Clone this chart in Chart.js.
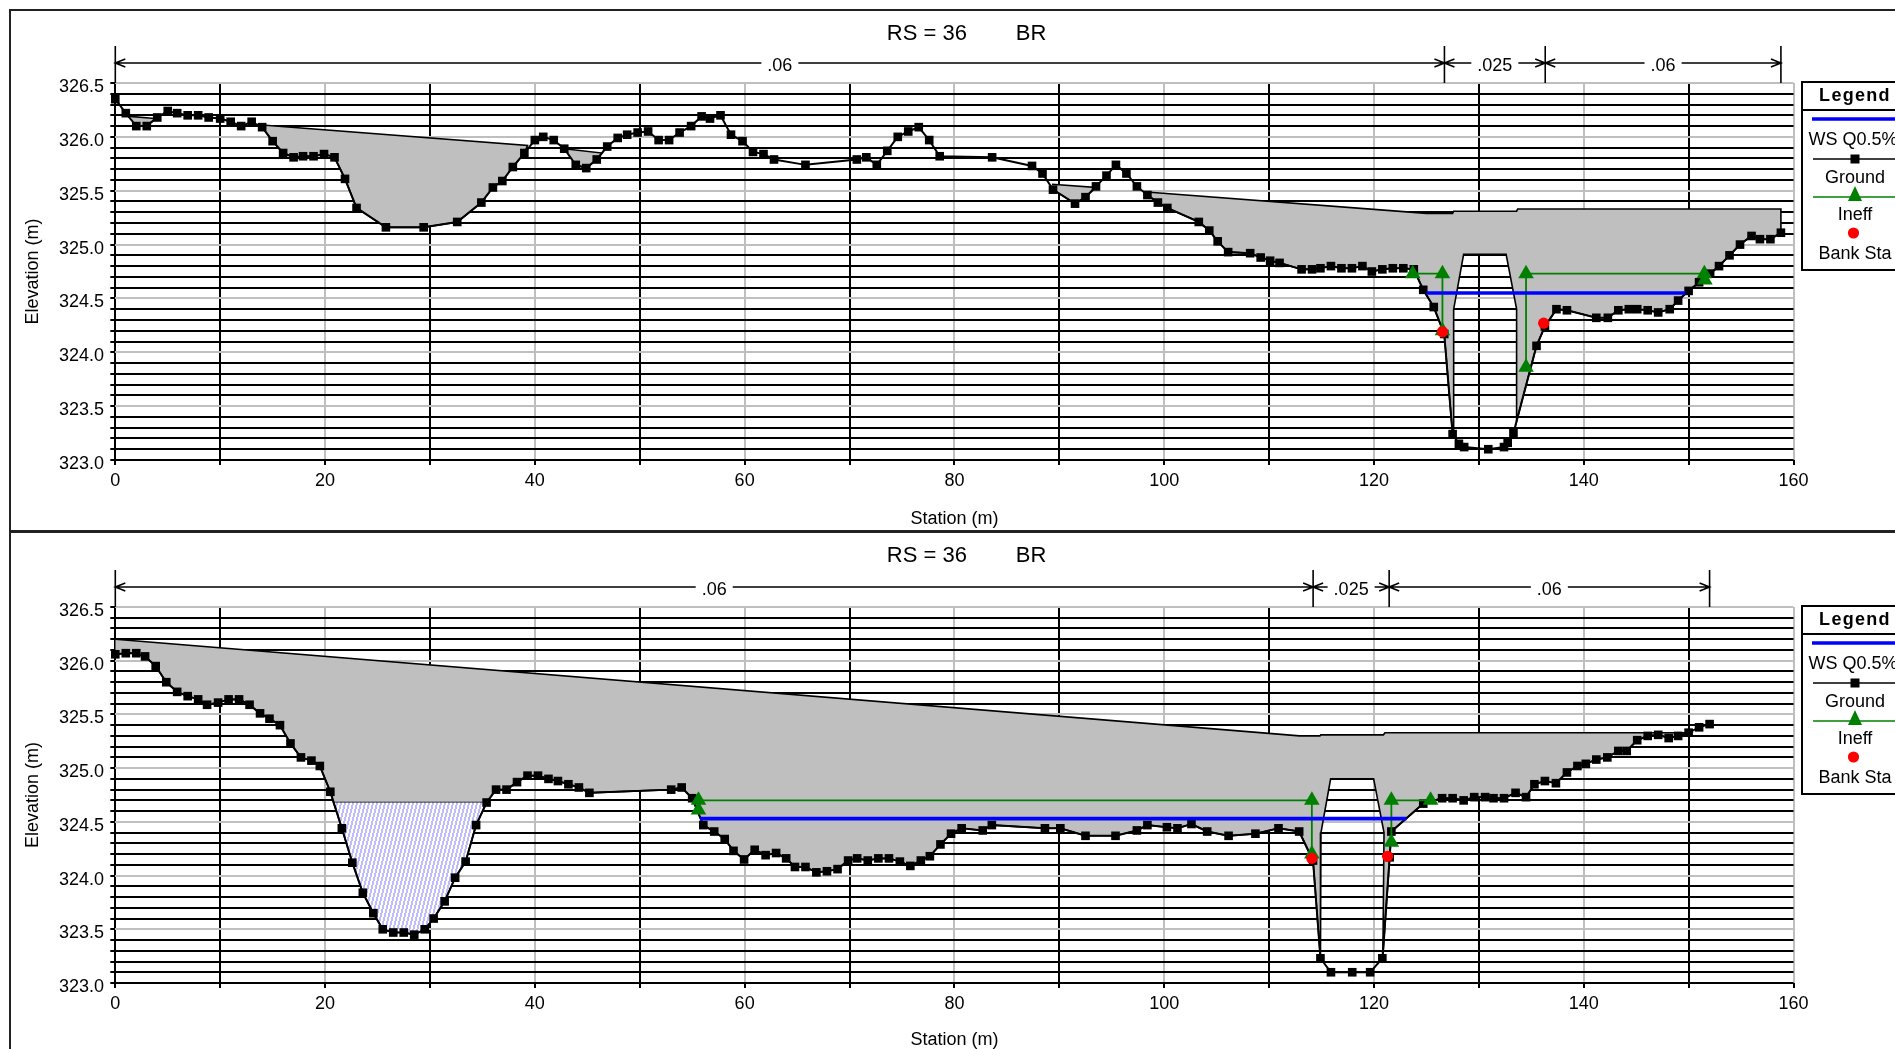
<!DOCTYPE html>
<html>
<head>
<meta charset="utf-8">
<script src="https://cdn.jsdelivr.net/npm/chart.js@4"></script>
<style>
  html, body { margin: 0; padding: 0; background: #fff; overflow: hidden; }
  body { width: 1895px; height: 1049px; position: relative; }
  canvas { position: absolute; left: 0; }
  .edge { position: absolute; background: #222; }
</style>
</head>
<body>
<div class="edge" style="left:9px;top:9px;width:1886px;height:2px"></div>
<div class="edge" style="left:9px;top:9px;width:2px;height:1040px"></div>
<div class="edge" style="left:9px;top:530px;width:1886px;height:3px"></div>
<canvas id="chartTop" width="1895" height="530" style="top:0"></canvas>
<canvas id="chartBottom" width="1895" height="520" style="top:533px"></canvas>
<script>
const chartTitle = "    RS = 36        BR";
const xTitle = "Station (m)";
const yTitle = "Elevation (m)";
const yTickLabels = ["323.0", "323.5", "324.0", "324.5", "325.0", "325.5", "326.0", "326.5"];
const legendNames = ["WS Q0.5%", "Ground", "Ineff", "Bank Sta"];

/* upper cross section */
const topGround = [[0,326.35],[1,326.22],[2,326.1],[3,326.1],[4,326.18],[5,326.24],[5.9,326.22],[6.9,326.2],[7.9,326.2],[8.9,326.18],
  [10,326.17],[11,326.14],[12,326.1],[13,326.14],[14,326.09],[15,325.96],[16,325.85],[17,325.81],[17.9,325.82],[18.9,325.82],
  [19.9,325.84],[20.9,325.81],[21.9,325.61],[23,325.34],[25.8,325.16],[29.4,325.16],[32.6,325.21],[34.9,325.39],[36,325.53],[36.9,325.59],
  [37.9,325.72],[39,325.85],[40,325.97],[40.8,326],[41.8,325.97],[42.8,325.89],[43.9,325.74],[44.9,325.71],[45.9,325.79],[46.9,325.91],
  [47.9,325.99],[48.8,326.02],[49.8,326.04],[50.8,326.05],[51.8,325.97],[52.8,325.97],[53.8,326.04],[54.9,326.1],[55.9,326.19],[56.7,326.17],
  [57.7,326.2],[58.7,326.02],[59.8,325.96],[60.8,325.86],[61.8,325.84],[62.8,325.79],[65.8,325.74],[70.7,325.79],[71.6,325.81],[72.6,325.74],
  [73.6,325.87],[74.6,326],[75.6,326.05],[76.6,326.09],[77.6,325.97],[78.6,325.82],[83.6,325.81],[87.4,325.73],[88.4,325.66],[89.4,325.51],
  [91.5,325.38],[92.5,325.44],[93.5,325.54],[94.5,325.64],[95.4,325.74],[96.4,325.66],[97.4,325.54],[98.4,325.46],[99.4,325.39],[100.3,325.34],
  [103.3,325.21],[104.3,325.13],[105.1,325.03],[106.1,324.93],[108.2,324.92],[109.2,324.88],[110.1,324.85],[111,324.83],[113.1,324.77],[114.1,324.77],
  [114.9,324.78],[115.9,324.8],[116.9,324.78],[117.9,324.78],[118.9,324.8],[119.8,324.75],[120.8,324.77],[121.8,324.78],[122.8,324.78],[123.8,324.77],
  [124.7,324.58],[125.7,324.42],[126.7,324.17],[127.5,323.24],[128.1,323.15],[128.6,323.12],[130.9,323.1],[132.4,323.12],[132.75,323.16],[133.3,323.25],
  [135.5,324.06],[136.3,324.24],[137.4,324.4],[138.4,324.39],[141.2,324.32],[142.3,324.32],[143.3,324.39],[144.3,324.4],[145.1,324.4],[146.1,324.39],
  [147.1,324.37],[148.2,324.4],[149,324.48],[150,324.57],[151,324.65],[152.05,324.73],[152.9,324.8],[153.9,324.9],[154.9,325],[156,325.08],
  [156.8,325.05],[157.8,325.05],[158.8,325.11]];
const topWs = [[125,324.55],[149.7,324.55]];
const topIneffLeft = [[123.7,324.73],[126.53,324.73],[126.53,324.2]];
const topIneffRight = [[134.5,323.86],[134.5,324.73],[151.5,324.73],[151.55,324.67]];
const topBank = [[126.53,324.19],[136.18,324.27]];
const topNStations = [0, 126.72, 136.33, 158.8];
const topDeck1 = [[1.4,326.19],[3.8,326.17]];
const topDeck2 = [[14,326.11],[39.3,325.92]];
const topDeck3 = [[42.8,325.89],[46.4,325.85]];
const topDeck4 = [[89.3,325.56],[93.5,325.53]];
const topDeck5 = [[98,325.49],[125,325.29],[127.5,325.29],[127.6,325.31],[133.6,325.31],[133.7,325.33],[158.8,325.33]];
const topOpening = [[133.6,323.36],[133.6,324.4],[132.6,324.91],[128.55,324.91],[127.6,324.4],[127.6,323.23]];

/* lower cross section */
const bottomGround = [[0,326.06],[1,326.07],[2,326.07],[2.84,326.04],[3.85,325.95],[4.86,325.8],[5.9,325.71],[6.9,325.67],[7.9,325.64],[8.75,325.59],
  [9.8,325.61],[10.8,325.64],[11.8,325.64],[12.8,325.59],[13.8,325.51],[14.7,325.46],[15.7,325.4],[16.7,325.23],[17.7,325.1],[18.7,325.07],
  [19.5,325.02],[20.5,324.78],[21.6,324.44],[22.6,324.12],[23.6,323.84],[24.6,323.65],[25.5,323.5],[26.5,323.47],[27.5,323.47],[28.5,323.45],
  [29.5,323.5],[30.35,323.6],[31.4,323.76],[32.4,323.98],[33.4,324.13],[34.4,324.47],[35.4,324.68],[36.3,324.8],[37.3,324.8],[38.3,324.87],
  [39.3,324.93],[40.3,324.93],[41.3,324.9],[42.2,324.88],[43.2,324.85],[44.2,324.82],[45.2,324.77],[53,324.8],[54,324.82],[55,324.72],
  [56.06,324.47],[57.1,324.41],[58.1,324.34],[58.94,324.23],[59.95,324.15],[60.96,324.24],[62,324.19],[63,324.21],[63.96,324.16],[64.8,324.08],
  [65.8,324.08],[66.84,324.03],[67.85,324.04],[68.86,324.06],[69.87,324.14],[70.73,324.16],[71.74,324.14],[72.75,324.16],[73.76,324.16],[74.8,324.13],
  [75.8,324.09],[76.8,324.14],[77.66,324.18],[78.67,324.29],[79.68,324.39],[80.69,324.44],[82.7,324.42],[83.57,324.47],[88.63,324.44],[90.1,324.44],
  [92.5,324.37],[95.36,324.37],[97.4,324.42],[98.4,324.47],[100.26,324.45],[101.27,324.44],[102.6,324.48],[104.1,324.41],[106.14,324.37],[108.7,324.39],
  [110.9,324.44],[112.87,324.41],[114.19,324.14],[114.9,323.23],[115.9,323.1],[117.93,323.1],[119.64,323.1],[120.8,323.23],[121.5,324.17],[121.66,324.41],
  [124.7,324.67],[126.5,324.72],[127.5,324.72],[128.55,324.7],[129.56,324.73],[130.6,324.73],[131.4,324.72],[132.4,324.72],[133.5,324.77],[134.5,324.73],
  [135.3,324.85],[136.3,324.88],[137.35,324.86],[138.4,324.96],[139.4,325.02],[140.2,325.04],[141.2,325.08],[142.25,325.1],[143.3,325.16],[144.1,325.16],
  [145.1,325.26],[146.1,325.3],[147.1,325.31],[148.1,325.28],[149,325.3],[150,325.33],[151,325.38],[152,325.41]];
const bottomWs = [[55.75,324.53],[123.1,324.53]];
const bottomIneffLeft = [[55.6,324.61],[55.6,324.7],[114.08,324.7],[114.08,324.2]];
const bottomIneffRight = [[121.66,324.31],[121.66,324.7],[125.4,324.7]];
const bottomBank = [[114.08,324.16],[121.3,324.18]];
const bottomNStations = [0, 114.2, 121.45, 152];
const bottomDeck = [[0,326.2],[112.9,325.3],[114.85,325.3],[114.93,325.31],[120.9,325.31],[121.05,325.33],[150,325.33]];
const bottomOpening = [[120.85,323.23],[120.96,324.4],[119.97,324.9],[115.87,324.9],[114.95,324.4],[114.9,323.23]];
const bottomPondLeft = [[20.8,324.68]];
const bottomPondRight = [[35.4,324.68]];

const nLabels = [".06", ".025", ".06"];

const FONT = "'Liberation Sans', Arial, sans-serif";

// ground points from station a down to station b, for closing the grey shapes
function groundBack(ground, a, b) {
  return ground.filter(p => p[0] <= a && p[0] >= b).reverse();
}

function toPoints(list) {
  return list.map(p => ({x: p[0], y: p[1]}));
}

// blue and white slanted stripes of the pond area
function hatch() {
  const c = document.createElement("canvas");
  c.width = 4; c.height = 16;
  const g = c.getContext("2d");
  g.fillStyle = "#fff";
  g.fillRect(0, 0, 4, 16);
  g.fillStyle = "#bcbcff";
  for (let row = 0; row < 4; row++) {
    const left = 3 - row;
    g.fillRect(left, row * 4, 2, 4);
    if (left === 3) g.fillRect(0, row * 4, 1, 4);
  }
  return g.createPattern(c, "repeat");
}

// manning n brackets, y tick labels and the clipped legend box
const extras = {
  id: "extras",
  afterDraw(chart, args, opts) {
    const ctx = chart.ctx;
    const x = chart.scales.x, y = chart.scales.y;
    const top = chart.chartArea.top;
    ctx.save();
    ctx.fillStyle = "#000";
    ctx.strokeStyle = "#000";
    ctx.font = "18px " + FONT;

    ctx.textAlign = "right";
    ctx.textBaseline = "middle";
    yTickLabels.forEach(t => ctx.fillText(t, 104, y.getPixelForValue(parseFloat(t)) + 4));

    const st = opts.stations;
    const lineY = top - 20;
    ctx.lineWidth = 1.6;
    st.forEach(s => {
      const px = x.getPixelForValue(s);
      ctx.beginPath(); ctx.moveTo(px, top - 37); ctx.lineTo(px, top); ctx.stroke();
    });
    ctx.textAlign = "center";
    for (let i = 0; i < nLabels.length; i++) {
      const a = x.getPixelForValue(st[i]), b = x.getPixelForValue(st[i + 1]);
      const mid = (a + b) / 2;
      const half = ctx.measureText(nLabels[i]).width / 2 + 6;
      ctx.beginPath();
      ctx.moveTo(a, lineY); ctx.lineTo(mid - half, lineY);
      ctx.moveTo(mid + half, lineY); ctx.lineTo(b, lineY);
      ctx.moveTo(a + 10, lineY - 4); ctx.lineTo(a, lineY); ctx.lineTo(a + 10, lineY + 4);
      ctx.moveTo(b - 10, lineY - 4); ctx.lineTo(b, lineY); ctx.lineTo(b - 10, lineY + 4);
      ctx.stroke();
      ctx.fillText(nLabels[i], mid, lineY + 3);
    }

    // legend, runs off the right side of the window like the original
    const bx = 1802, mid = 1855;
    ctx.lineWidth = 2;
    ctx.strokeRect(bx, top - 1, 200, 188);
    ctx.beginPath(); ctx.moveTo(bx, top + 27); ctx.lineTo(1895, top + 27); ctx.stroke();
    ctx.font = "bold 18px " + FONT;
    ctx.letterSpacing = "1.3px";
    ctx.fillText("Legend", mid, top + 13);
    ctx.letterSpacing = "0px";
    ctx.font = "18px " + FONT;
    ctx.textAlign = "center";
    ctx.fillText(legendNames[0], 1853, top + 57);
    ctx.fillText(legendNames[1], mid, top + 95);
    ctx.fillText(legendNames[2], mid, top + 132);
    ctx.fillText(legendNames[3], mid, top + 171);

    ctx.strokeStyle = "#0000ff"; ctx.lineWidth = 3.4;
    ctx.beginPath(); ctx.moveTo(1812, top + 36); ctx.lineTo(1895, top + 36); ctx.stroke();
    ctx.strokeStyle = "#000"; ctx.lineWidth = 1.6;
    ctx.beginPath(); ctx.moveTo(1813, top + 76); ctx.lineTo(1895, top + 76); ctx.stroke();
    ctx.fillRect(mid - 4.5, top + 71.5, 9, 9);
    ctx.strokeStyle = "#008000";
    ctx.beginPath(); ctx.moveTo(1813, top + 114); ctx.lineTo(1895, top + 114); ctx.stroke();
    ctx.fillStyle = "#008000";
    ctx.beginPath(); ctx.moveTo(mid, top + 103); ctx.lineTo(mid + 7, top + 118); ctx.lineTo(mid - 7, top + 118); ctx.closePath(); ctx.fill();
    ctx.fillStyle = "#ff0000";
    ctx.beginPath(); ctx.arc(1853.5, top + 150, 5.6, 0, Math.PI * 2); ctx.fill();
    ctx.restore();
  }
};

function shape(points, color) {
  return {data: toPoints(points), showLine: true, fill: "shape", backgroundColor: color, borderColor: "#000", borderWidth: 1.6,
    pointRadius: 0, order: 5, clip: false};
}

function drawSection(id, s) {
  const datasets = [
    {label: legendNames[3], data: toPoints(s.bank), pointStyle: "circle", pointRadius: 5.6, pointBackgroundColor: "#ff0000", pointBorderWidth: 0, showLine: false, order: 0, clip: false},
    {label: legendNames[0], data: toPoints(s.ws), showLine: true, borderColor: "#0000ff", borderWidth: 3.6, pointRadius: 0, order: 1},
    {label: legendNames[2], data: toPoints(s.ineffLeft), showLine: true, borderColor: "#008000", borderWidth: 1.8, pointStyle: "triangle", pointRadius: 9, pointBackgroundColor: "#008000", pointBorderWidth: 0, order: 2, clip: false},
    {label: legendNames[2], data: toPoints(s.ineffRight), showLine: true, borderColor: "#008000", borderWidth: 1.8, pointStyle: "triangle", pointRadius: 9, pointBackgroundColor: "#008000", pointBorderWidth: 0, order: 2, clip: false},
    {label: legendNames[1], data: toPoints(s.ground), showLine: true, borderColor: "#000", borderWidth: 2, pointStyle: "rect", pointRadius: 6.1, pointBackgroundColor: "#000", pointBorderWidth: 0, order: 3, clip: false}
  ];
  s.shapes.forEach(p => datasets.push(shape(p, "#bfbfbf")));
  if (s.pond) {
    const d = shape(s.pond, hatch());
    d.order = 4;
    datasets.push(d);
  }

  new Chart(document.getElementById(id), {
    type: "scatter",
    data: {datasets: datasets},
    plugins: [extras],
    options: {
      responsive: false,
      animation: false,
      events: [],
      layout: {padding: {left: 0, right: 101.5, top: 0, bottom: 0}},
      plugins: {
        legend: {display: false},
        tooltip: {enabled: false},
        title: {display: true, text: chartTitle, fullSize: false, color: "#000", font: {family: FONT, size: 22, weight: "normal"}, padding: s.titlePad},
        extras: {stations: s.nStations}
      },
      scales: {
        x: {
          type: "linear", min: 0, max: 160,
          afterFit(sc) { sc.height = s.xHeight; },
          border: {display: false},
          grid: {
            lineWidth: 2, tickLength: 5, tickColor: "#000",
            color: c => (c.tick.value === 0 || c.tick.value % 20 !== 0) ? "#000" : "#bfbfbf"
          },
          ticks: {
            stepSize: 10, autoSkip: false, maxRotation: 0, padding: 5, color: "#000",
            font: {family: FONT, size: 18},
            callback: v => (v % 20 === 0 ? v : "")
          },
          title: {display: true, text: xTitle, color: "#000", font: {family: FONT, size: 18}, padding: {top: 0, bottom: s.xTitleBottom}}
        },
        y: {
          type: "linear", min: 323, max: 326.5,
          afterFit(sc) { sc.width = 115.3; },
          border: {display: false},
          grid: {
            lineWidth: 2, tickLength: 5, tickColor: "#000",
            color: c => {
              const v = c.tick.value;
              if (Math.abs(v - 323) < 1e-6) return "#000";
              return Math.abs(v * 2 - Math.round(v * 2)) < 1e-6 ? "#bfbfbf" : "#000";
            }
          },
          ticks: {stepSize: 0.1, autoSkip: false, color: "#000", font: {family: FONT, size: 18}, callback: () => ""},
          title: {display: true, text: yTitle, color: "#000", font: {family: FONT, size: 18}, padding: {top: 21.8, bottom: 0}}
        }
      }
    }
  });
}

drawSection("chartTop", {
  ground: topGround, ws: topWs, ineffLeft: topIneffLeft, ineffRight: topIneffRight, bank: topBank, nStations: topNStations,
  shapes: [
    topDeck1.concat(groundBack(topGround, 3, 2)),
    topDeck2.concat(groundBack(topGround, 39, 14)),
    topDeck3.concat(groundBack(topGround, 45.9, 43.9)),
    topDeck4.concat(groundBack(topGround, 92.5, 89.4)),
    topDeck5.concat(groundBack(topGround, 158.8, 135.5), topOpening, groundBack(topGround, 127.5, 98.4))
  ],
  titlePad: {top: 21, bottom: 35.6}, xHeight: 70, xTitleBottom: 0
});

drawSection("chartBottom", {
  ground: bottomGround, ws: bottomWs, ineffLeft: bottomIneffLeft, ineffRight: bottomIneffRight, bank: bottomBank, nStations: bottomNStations,
  shapes: [
    bottomDeck.concat(groundBack(bottomGround, 150, 121.5), bottomOpening, groundBack(bottomGround, 114.19, 35.4), bottomPondLeft, groundBack(bottomGround, 20.5, 0))
  ],
  pond: bottomPondLeft.concat(groundBack(bottomGround, 34.4, 21.6).reverse(), bottomPondRight),
  titlePad: {top: 9.8, bottom: 37.8}, xHeight: 70, xTitleBottom: 2.5
});
</script>
</body>
</html>
